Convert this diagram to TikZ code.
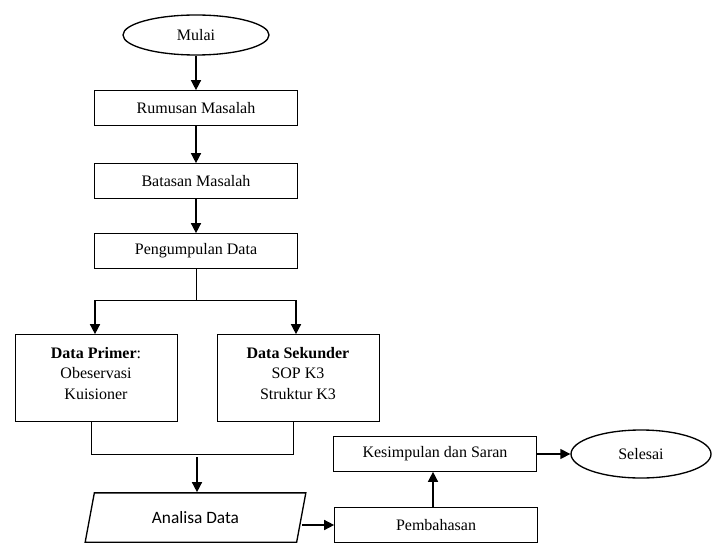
\documentclass[tikz,border=0pt]{standalone}
\usepackage{fontspec}
\setmainfont{Liberation Serif}
\newfontfamily\calibri{Carlito}
\usetikzlibrary{shapes.geometric,arrows.meta}

\begin{document}
\begin{tikzpicture}[x=0.75pt,y=-0.75pt,
    every node/.style={font=\fontsize{12}{15.4}\selectfont},
    box/.style={draw,line width=0.75pt,minimum width=152pt,minimum height=26pt,inner sep=0pt},
    databox/.style={draw,line width=0.75pt,minimum width=121.5pt,minimum height=65pt,align=center,text depth=7.5pt},
    oval/.style={draw,ellipse,line width=1pt,inner sep=0pt},
    datain/.style={draw,trapezium,trapezium left angle=72,trapezium right angle=108,
      trapezium stretches=true,line width=1pt,minimum width=166pt,minimum height=37pt,inner sep=0pt},
    arr/.style={line width=1.1pt,-{Triangle[length=7.5pt,width=7.5pt]}}]
      \useasboundingbox (0,0) rectangle (712,552);

      %%%%%%%%%%%%%%%%%%%%%%%%%%%%%%%%%%%%%%%%%%%%%%%%%%%%%%%%%%%%%%%%%%%%%%%%%%%
      %%%%  Alur utama
      \node[oval,minimum width=109.5pt,minimum height=30pt] (mulai) at (196,35) {Mulai};
      \node[box] (rumusan) at (196,108) {Rumusan Masalah};
      \node[box] (batasan) at (196,181) {Batasan Masalah};
      \node[box] (kumpul) at (196,251) {Pengumpulan Data};

      \draw[arr] (mulai) -- (rumusan);
      \draw[arr] (rumusan) -- (batasan);
      \draw[arr] (batasan) -- (kumpul);

      %%%%%%%%%%%%%%%%%%%%%%%%%%%%%%%%%%%%%%%%%%%%%%%%%%%%%%%%%%%%%%%%%%%%%%%%%%%
      %%%%  Data
      \node[databox] (primer) at (96,378) {\textbf{Data Primer}:\\Obeservasi\\Kuisioner};
      \node[databox] (sekunder) at (298,378) {\textbf{Data Sekunder}\\SOP K3\\Struktur K3};

      \coordinate (pisah) at (196,300);
      \coordinate (pisahL) at (95,300);
      \coordinate (pisahR) at (296,300);
      \draw[line width=0.75pt] (kumpul) -- (pisah);
      \draw[line width=0.75pt] (pisahL) -- (pisahR);
      \draw[arr] (pisahL) -- (pisahL |- primer.north);
      \draw[arr] (pisahR) -- (pisahR |- sekunder.north);

      \coordinate (gabungL) at (91,454);
      \coordinate (gabungR) at (293,454);
      \draw[line width=0.75pt] (gabungL |- primer.south) -- (gabungL) -- (gabungR)
        -- (gabungR |- sekunder.south);

      %%%%%%%%%%%%%%%%%%%%%%%%%%%%%%%%%%%%%%%%%%%%%%%%%%%%%%%%%%%%%%%%%%%%%%%%%%%
      %%%%  Analisa sampai selesai
      \node[datain] (analisa) at (195.5,517.5) {\calibri\fontsize{13}{15}\selectfont Analisa Data};
      \node[box] (bahas) at (436,525) {Pembahasan};
      \node[box] (simpul) at (435,454) {Kesimpulan dan Saran};
      \node[oval,minimum width=105pt,minimum height=36pt] (selesai) at (641,454) {Selesai};

      \coordinate (gabung) at (197,457);
      \draw[arr] (gabung) -- (gabung |- analisa.north);
      \draw[arr] (analisa.east |- bahas.west) -- (bahas.west);
      \draw[arr] (bahas.north -| 433,0) -- (simpul.south -| 433,0);
      \draw[arr] (simpul) -- (selesai);
    \end{tikzpicture}
\end{document}
